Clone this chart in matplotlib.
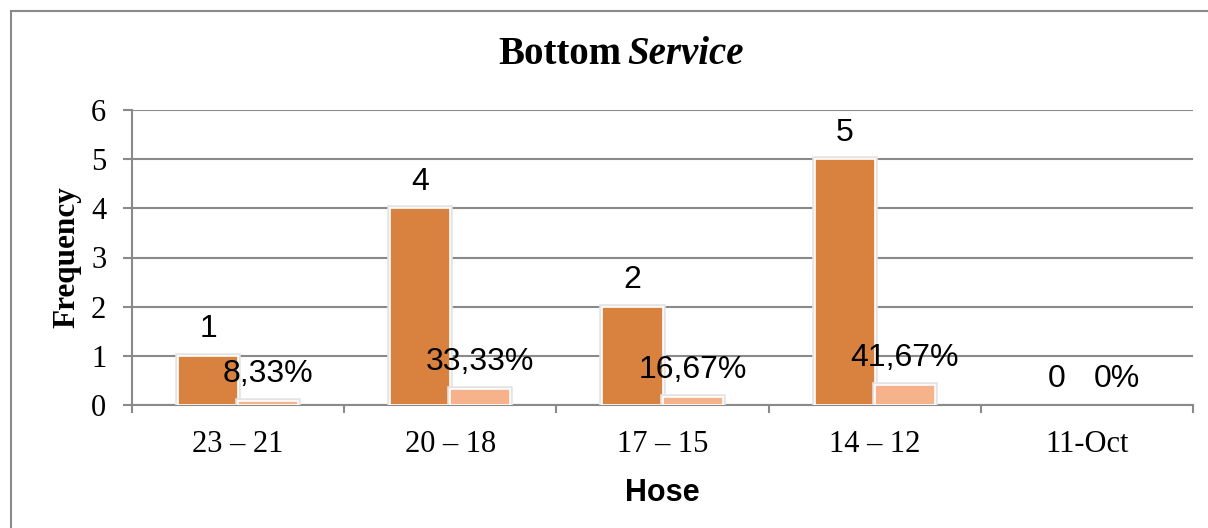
import matplotlib
matplotlib.use("Agg")
import matplotlib.pyplot as plt
import matplotlib.patheffects as pe
from matplotlib.lines import Line2D
import numpy as np

categories = ["23 \u2013 21", "20 \u2013 18", "17 \u2013 15", "14 \u2013 12", "11-Oct"]
frequency = [1, 4, 2, 5, 0]
percent = [8.33, 33.33, 16.67, 41.67, 0]
freq_labels = ["1", "4", "2", "5", "0"]
pct_labels = ["8,33%", "33,33%", "16,67%", "41,67%", "0%"]
yticks = [0, 1, 2, 3, 4, 5, 6]

orange = "#D9823F"
pink = "#F5B28B"
gray = "#8a8a8a"

W, H = 1208, 528
fig = plt.figure(figsize=(W / 100, H / 100), dpi=100)
ax = fig.add_axes([132 / W, 1 - 405 / H, (1193 - 132) / W, 295 / H])

x = np.arange(len(categories))
bw = 0.283
off = 0.1415
halo = [pe.Stroke(linewidth=4, foreground="#e4e4e4"), pe.Normal()]
b1 = ax.bar(x - off, frequency, width=bw, color=orange, edgecolor="white",
            linewidth=1.2, zorder=3)
b2 = ax.bar(x + off, [p / 100 for p in percent], width=bw, color=pink,
            edgecolor="white", linewidth=1.2, zorder=3)
for r, v in zip(b1, frequency):
    if v > 0:
        r.set_path_effects(halo)
    else:
        r.set_visible(False)
for r, v in zip(b2, percent):
    if v > 0:
        r.set_path_effects(halo)
    else:
        r.set_visible(False)

lab_font = dict(family="Liberation Sans", fontsize=23, color="black")
for xi, v, s in zip(x, frequency, freq_labels):
    ax.annotate(s, (xi - off, v), xytext=(0, 13.3), textcoords="offset points",
                ha="center", va="baseline", zorder=5, **lab_font)
for xi, v, s in zip(x, percent, pct_labels):
    ax.annotate(s, (xi + off, v / 100), xytext=(0, 13.3), textcoords="offset points",
                ha="center", va="baseline", zorder=5, **lab_font)

ax.set_xlim(-0.5, len(categories) - 0.5)
ax.set_ylim(0, 6)
ax.set_yticks(yticks)
ax.set_yticklabels([str(t) for t in yticks], family="Liberation Serif", fontsize=22)
ax.yaxis.grid(True, color=gray, linewidth=1.5, zorder=0)
ax.set_axisbelow(True)

ax.set_xticks(np.arange(-0.5, len(categories), 1.0))
ax.set_xticklabels([])
ax.set_xticks(x, minor=True)
ax.set_xticklabels(categories, minor=True, family="Liberation Serif", fontsize=22)
ax.tick_params(axis="x", which="major", length=6, width=1.5, color=gray, direction="out")
ax.tick_params(axis="x", which="minor", length=0, pad=18)
ax.tick_params(axis="y", length=6.5, width=1.5, color=gray, direction="out", pad=12)

for s in ["top", "right"]:
    ax.spines[s].set_visible(False)
for s in ["left", "bottom"]:
    ax.spines[s].set_color(gray)
    ax.spines[s].set_linewidth(1.5)

ax.set_xlabel("Hose", family="Liberation Sans", fontweight="bold", fontsize=22, labelpad=14)
ax.set_ylabel("Frequency", family="Liberation Serif", fontweight="bold", fontsize=22.5, labelpad=7)

fig.text(621 / W, 1 - 64 / H, "Bottom", family="Liberation Serif", fontweight="bold",
         fontsize=28, ha="right", va="baseline")
fig.text(627 / W, 1 - 64 / H, "Service", family="Liberation Serif", fontweight="bold",
         fontstyle="italic", fontsize=28, ha="left", va="baseline")

fig.add_artist(Line2D([11 / W, 11 / W], [0, 1 - 11 / H], color=gray, linewidth=1.5))
fig.add_artist(Line2D([11 / W, 1], [1 - 11 / H, 1 - 11 / H], color=gray, linewidth=1.5))

fig.savefig("out.png", dpi=100)
